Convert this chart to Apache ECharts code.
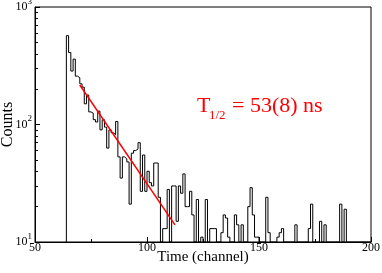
<!DOCTYPE html>
<html><head><meta charset="utf-8">
<script src="https://cdn.jsdelivr.net/npm/echarts@6/dist/echarts.min.js"></script>
<style>html,body{margin:0;padding:0;background:#fff}#c{width:382px;height:273px}</style>
</head><body><div id="c"></div>
<script>
// ---- data ----
const firstChannel = 64;            // first histogram bin (channel)
const counts = [
  570, 410, 285, 360, 258, 250, 222, 208, 150, 178,   // 64-73
  128, 125, 110, 105, 130, 90, 110, 95, 63, 90,       // 74-83
  85, 82, 106, 53, 35, 53, 51, 48, 21, 57,            // 84-93
  60, 62, 70, 27, 55, 27, 40, 32, 30, 47,             // 94-103
  47, 24, 0, 13, 13, 28, 0, 30, 30, 15,               // 104-113
  30, 26, 38, 20, 20, 27, 17, 0, 23, 0,               // 114-123
  11, 0, 23, 0, 13, 13, 13, 0, 0, 12,                 // 124-133
  17, 16, 11, 0, 0, 17, 14, 0, 14, 0,                 // 134-143
  0, 20, 29, 17, 11, 11, 0, 0, 0, 24,                 // 144-153
  12, 0, 0, 0, 11, 12, 13, 0, 0, 0,                   // 154-163
  0, 0, 14, 0, 0, 0, 0, 0, 13, 21,                    // 164-173
  0, 0, 0, 15, 0, 14, 0, 0, 0, 0,                     // 174-183
  0, 0, 21, 0, 19, 0, 0, 0, 0, 0,                     // 184-193
  0, 0, 0, 0, 0, 0                                    // 194-199
];
const fitStart = [70, 217];         // exponential fit, start (channel, counts)
const fitEnd = [112.5, 14];         // exponential fit, end
const xTicks = [50, 100, 150, 200];
const yMajorTicks = [10, 100, 1000];
const yMinorTicks = [20, 30, 40, 50, 60, 70, 80, 90, 200, 300, 400, 500, 600, 700, 800, 900];
const xTitle = 'Time (channel)';
const yTitle = 'Counts';
const halfLifeMain = 'T';
const halfLifeSub = '1/2';
const halfLifeRest = '= 53(8) ns';

// ---- build ----
const FONT = "'Liberation Serif', 'DejaVu Serif', serif";
const floor = yMajorTicks[0];
const hist = [[firstChannel, floor]];
counts.forEach((v, i) => hist.push([firstChannel + i, Math.max(v, floor)]));
hist.push([firstChannel + counts.length, Math.max(counts[counts.length - 1], floor)]);

const chart = echarts.init(document.getElementById('c'), null, {renderer: 'canvas'});
chart.setOption({
  animation: false,
  backgroundColor: '#fff',
  grid: {left: 35, right: 11, top: 7, bottom: 31, containLabel: false, outerBoundsMode: 'none',
         show: true, borderColor: '#000', borderWidth: 1, backgroundColor: 'transparent'},
  xAxis: {
    type: 'value', min: xTicks[0], max: xTicks[xTicks.length - 1], interval: 50,
    name: xTitle, nameLocation: 'middle', nameGap: 8, nameMoveOverlap: false,
    nameTextStyle: {fontFamily: FONT, fontSize: 15, color: '#000'},
    axisLine: {show: true, onZero: false, lineStyle: {color: '#000', width: 1}},
    axisTick: {show: true, inside: true, length: 5, lineStyle: {color: '#000'}},
    minorTick: {show: true, splitNumber: 2, length: 3, lineStyle: {color: '#000'}},
    axisLabel: {fontFamily: FONT, fontSize: 12, color: '#000', margin: 0},
    splitLine: {show: false}, minorSplitLine: {show: false}
  },
  yAxis: [{
    type: 'log', logBase: 10, min: yMajorTicks[0], max: yMajorTicks[yMajorTicks.length - 1],
    name: yTitle, nameLocation: 'middle', nameGap: 19, nameMoveOverlap: false,
    nameTextStyle: {fontFamily: FONT, fontSize: 16, color: '#000'},
    axisLine: {show: true, onZero: false, lineStyle: {color: '#000', width: 1}},
    axisTick: {show: true, inside: true, length: 5, lineStyle: {color: '#000'}},
    minorTick: {show: false},
    splitLine: {show: false},
    axisLabel: {
      margin: 3,
      formatter: v => '{b|10}{s|' + Math.round(Math.log10(v)) + '}',
      rich: {
        b: {fontFamily: FONT, fontSize: 12, color: '#000', lineHeight: 20},
        s: {fontFamily: FONT, fontSize: 9, color: '#000', lineHeight: 8, verticalAlign: 'top'}
      }
    }
  }, {
    type: 'value', position: 'left', offset: 0,
    min: Math.log10(yMajorTicks[0]), max: Math.log10(yMajorTicks[yMajorTicks.length - 1]),
    axisLine: {show: false, onZero: false},
    axisTick: {show: true, inside: true, length: 3, lineStyle: {color: '#000'}, customValues: yMinorTicks.map(v => Math.log10(v))},
    axisLabel: {show: false, customValues: yMinorTicks.map(v => Math.log10(v))},
    splitLine: {show: false}
  }],
  series: [{
    type: 'line', yAxisIndex: 0, step: 'end', data: hist, showSymbol: false, symbol: 'none',
    lineStyle: {color: '#000', width: 1}, clip: true, silent: true
  }, {
    type: 'line', yAxisIndex: 0, data: [fitStart, fitEnd], showSymbol: false, symbol: 'none',
    lineStyle: {color: '#ff0000', width: 1.5}, clip: true, silent: true
  }],
  graphic: [
    {type: 'text', x: 197, y: 106, style: {text: halfLifeMain, font: '22px ' + FONT, fill: '#ff0000', verticalAlign: 'middle'}},
    {type: 'text', x: 209, y: 116, style: {text: halfLifeSub, font: '13px ' + FONT, fill: '#ff0000', verticalAlign: 'middle'}},
    {type: 'text', x: 232, y: 106, style: {text: halfLifeRest, font: '22px ' + FONT, fill: '#ff0000', verticalAlign: 'middle'}}
  ]
});
</script></body></html>
